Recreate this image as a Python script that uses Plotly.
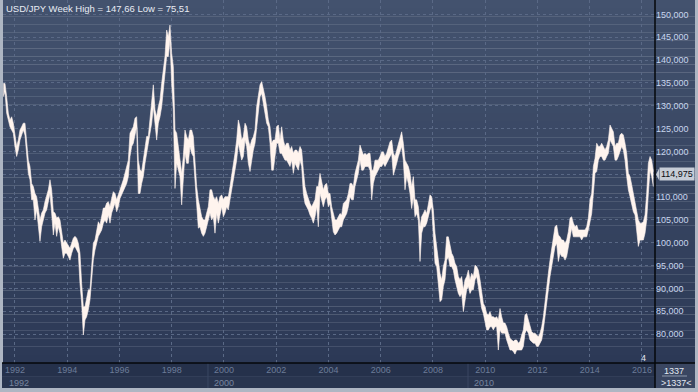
import plotly.graph_objects as go

# ---------------- data ----------------
TITLE = "USD/JPY Week High = 147,66 Low = 75,51"
FIRST_PERIOD = 1991.553      # decimal year of first sampled period
PERIOD_STEP = 0.0638         # years between sampled periods

HIGH = [
    134.9, 134.9, 132.0, 128.4, 126.9, 127.6, 126.2, 123.3, 121.1, 122.5,
    124.7, 125.4, 126.2, 126.2, 122.5, 118.1, 116.7, 113.0, 112.3, 110.8,
    110.1, 107.2, 105.0, 106.5, 107.2, 109.0, 110.1, 111.6, 113.8, 111.6,
    106.8, 106.5, 105.4, 105.7, 105.0, 102.1, 99.9, 100.6, 99.9, 99.2,
    98.8, 99.9, 101.0, 101.4, 101.0, 99.9, 97.7, 91.1, 86.0, 86.0,
    88.2, 89.7, 89.7, 96.2, 99.9, 100.6, 102.8, 104.6, 103.9, 105.7,
    107.6, 107.6, 108.7, 109.0, 107.9, 109.7, 111.2, 110.8, 109.4, 110.5,
    111.9, 112.7, 113.8, 115.2, 116.7, 118.1, 124.0, 124.7, 125.4, 127.3,
    127.6, 118.1, 116.0, 115.6, 118.1, 120.3, 123.3, 123.3, 127.6, 130.5,
    134.6, 129.1, 127.6, 129.8, 131.3, 134.9, 137.9, 140.8, 146.6, 145.2,
    147.7, 141.5, 138.6, 124.7, 124.0, 121.1, 118.1, 115.2, 118.9, 124.7,
    123.3, 122.5, 124.7, 124.7, 123.3, 117.4, 112.3, 109.4, 107.2, 105.7,
    105.0, 105.0, 106.5, 107.9, 111.6,
    111.6, 110.1, 109.4, 110.1, 108.6, 110.1, 110.5, 109.4, 110.1, 110.1,
    110.1, 112.3, 114.5, 117.4, 119.6, 122.5, 126.9, 125.4, 122.5, 123.2,
    126.2, 125.4, 122.5, 121.1, 122.5, 123.2, 124.7, 129.8, 132.7, 134.6,
    135.3, 133.8, 132.0, 129.8, 126.9, 125.4, 121.8, 122.5, 122.5, 125.4,
    125.8, 122.5, 125.4, 122.5, 121.1, 121.8, 121.8, 120.3, 121.1, 119.6,
    120.3, 120.3, 119.6, 121.1, 120.3, 115.9, 112.3, 110.8, 109.4, 108.6,
    107.9, 108.6, 109.4, 112.3, 112.3, 115.2, 113.7, 111.6, 112.7, 113.0,
    110.8, 110.8, 107.9, 106.4, 105.0, 105.0, 105.7, 106.4, 106.1, 108.6,
    109.0, 109.4, 110.8, 113.0, 113.0, 112.3, 115.2, 116.7, 118.1, 121.4,
    120.3, 119.2, 119.6, 119.2, 119.6, 119.6, 115.9, 115.9, 118.1, 118.1,
    118.1, 118.9, 119.9, 119.9, 118.9, 119.6, 120.7, 122.1, 122.5, 119.6,
    118.9, 120.3, 121.8, 122.9, 124.3, 121.8, 118.1, 117.4, 116.7, 115.2,
    112.3, 114.5, 109.4, 109.4, 107.9, 103.5,
    105.7, 106.4, 107.2, 106.4, 108.6, 110.5, 110.1, 107.2, 102.1, 99.2,
    96.2, 93.3, 91.9, 94.8, 96.2, 101.3, 101.3, 99.2, 97.7, 97.0,
    95.5, 94.8, 92.6, 91.9, 92.6, 89.7, 91.9, 92.6, 94.0, 91.9,
    93.3, 92.6, 95.1, 94.8, 94.0, 91.9, 88.9, 86.7, 86.0, 84.5,
    84.2, 84.9, 83.8, 83.8, 83.5, 83.8, 83.1, 85.6, 83.8, 82.4,
    82.4, 81.6, 80.2, 79.1, 78.7, 78.4, 78.7, 78.7, 78.0, 78.4,
    79.8, 80.9, 84.2, 84.5, 83.1, 81.6, 80.5, 80.2, 80.2, 79.8,
    79.4, 80.2, 81.6, 83.8, 87.5, 90.4, 93.3, 96.2, 98.4, 100.6,
    103.5, 103.9, 101.7, 101.3, 100.6, 100.6, 99.9, 100.6, 102.4, 105.4,
    105.7, 104.3, 103.5, 103.9, 102.8, 102.8, 102.8, 102.8, 102.8, 103.5,
    105.4, 109.4, 110.8, 116.7, 118.5, 121.8, 121.1, 121.1, 121.8, 121.1,
    120.3, 121.1, 122.5, 125.8, 125.1, 124.3, 121.1, 121.8, 121.8, 123.6,
    124.0, 123.6, 121.8, 119.6, 115.2, 114.5, 112.7, 110.8, 108.6, 107.5,
    105.0, 104.3, 104.3, 104.6, 106.1, 110.8, 117.4, 118.9, 118.1, 115.6,
]

LOW = [
    132.0, 133.1, 128.4, 126.9, 125.4, 124.7, 124.0, 121.1, 118.9, 120.3,
    122.5, 123.6, 124.7, 123.6, 119.6, 115.2, 113.8, 109.4, 109.4, 105.0,
    107.2, 103.5, 100.3, 103.5, 105.0, 106.5, 107.2, 109.4, 110.8, 106.5,
    101.7, 104.3, 101.4, 103.5, 102.1, 99.2, 96.6, 97.7, 97.7, 97.0,
    96.2, 97.7, 98.8, 99.2, 98.4, 97.7, 91.1, 86.8, 79.8, 83.1,
    83.8, 85.3, 87.5, 91.9, 96.2, 98.4, 99.9, 101.4, 102.1, 102.8,
    104.3, 105.0, 104.3, 106.1, 104.3, 106.5, 107.6, 108.7, 106.8, 107.9,
    109.7, 110.5, 111.2, 112.3, 113.0, 114.5, 118.9, 121.1, 121.8, 123.6,
    125.4, 110.8, 110.8, 113.0, 114.5, 117.4, 119.6, 121.1, 124.0, 126.2,
    129.8, 126.2, 122.5, 126.2, 127.6, 129.8, 133.5, 137.1, 140.8, 140.8,
    144.4, 134.9, 129.1, 111.9, 117.4, 116.0, 114.5, 108.3, 113.8, 119.6,
    117.4, 117.4, 121.1, 119.6, 118.9, 113.0, 109.0, 103.2, 103.5, 102.1,
    101.4, 102.1, 103.5, 105.0, 106.5,
    105.0, 105.7, 102.1, 106.5, 104.3, 106.5, 107.9, 105.7, 106.5, 107.9,
    107.2, 109.4, 111.6, 113.7, 115.9, 118.1, 121.8, 120.3, 118.1, 118.9,
    122.5, 121.1, 117.4, 115.6, 118.1, 120.3, 121.8, 125.4, 129.1, 132.0,
    132.7, 130.5, 129.1, 126.2, 125.4, 121.8, 115.9, 115.9, 118.9, 121.8,
    121.8, 119.6, 119.6, 118.9, 118.1, 118.1, 117.4, 116.7, 118.1, 115.2,
    117.4, 116.7, 115.9, 118.1, 116.7, 110.8, 108.6, 107.9, 107.2, 106.1,
    105.4, 104.3, 105.7, 107.9, 103.5, 110.8, 109.4, 107.9, 109.4, 110.1,
    107.9, 108.6, 105.4, 102.4, 101.7, 102.1, 102.8, 103.5, 103.5, 105.0,
    105.7, 106.4, 107.9, 110.1, 109.4, 109.4, 112.3, 113.7, 115.2, 118.1,
    115.9, 115.9, 116.7, 116.7, 116.7, 115.9, 109.4, 113.0, 114.5, 115.2,
    115.9, 116.7, 116.7, 117.4, 116.7, 117.4, 118.1, 118.9, 119.6, 114.8,
    115.9, 117.4, 118.9, 120.3, 121.1, 118.1, 111.6, 114.5, 113.0, 110.8,
    107.5, 110.1, 105.7, 106.4, 105.0, 95.9,
    102.1, 103.5, 103.5, 104.3, 105.7, 107.2, 107.9, 100.6, 95.5, 94.8,
    91.1, 87.1, 87.5, 90.4, 91.9, 96.2, 96.9, 94.8, 94.8, 94.0,
    91.9, 90.4, 88.9, 88.2, 88.9, 84.9, 87.5, 89.7, 90.4, 88.9,
    89.7, 89.7, 91.9, 92.6, 90.4, 87.5, 85.6, 84.5, 82.7, 80.9,
    80.9, 81.6, 81.6, 80.9, 81.6, 81.6, 76.5, 80.9, 80.2, 80.2,
    80.2, 78.7, 77.3, 76.5, 76.5, 76.2, 75.6, 76.5, 76.5, 76.5,
    76.5, 77.3, 80.2, 80.9, 80.2, 78.7, 78.4, 78.0, 78.0, 77.3,
    77.3, 78.0, 78.7, 80.9, 83.8, 86.7, 90.4, 92.6, 94.8, 97.0,
    99.2, 99.9, 95.9, 97.7, 97.0, 97.0, 96.2, 97.0, 99.2, 100.6,
    103.2, 101.3, 101.3, 101.3, 101.3, 101.3, 100.6, 101.3, 101.3, 101.3,
    102.8, 104.3, 106.4, 110.8, 115.2, 115.6, 118.1, 118.9, 118.9, 118.1,
    118.1, 118.9, 119.6, 122.5, 121.8, 121.1, 118.1, 118.1, 118.9, 120.3,
    121.1, 120.3, 118.1, 114.5, 111.6, 110.1, 108.3, 106.8, 106.1, 102.4,
    99.2, 100.6, 100.6, 100.6, 102.1, 105.0, 110.8, 115.9, 114.5, 112.3,
]

LAST_VALUE = 114.975
Y_TICKS = [80, 85, 90, 95, 100, 105, 110, 115, 120, 125, 130, 135, 140, 145, 150]
X_TICK_YEARS = [1992, 1994, 1996, 1998, 2000, 2002, 2004, 2006, 2008, 2010, 2012, 2014, 2016]
X_TICK_LABELS = ["1992", "1994", "1996", "1998", "2000", "2002", "2004",
                 "2006", "2008", "2010", "2012", "2014", "2016"]
ERA_LABELS = ["1992", "2000", "2010"]
ERA_STARTS = [1991.541, 1999.387, 2009.34]
BAR_COUNT = "1337"
BAR_MARK = ">1337<"
SCALE_LABEL = "4"

n = min(len(HIGH), len(LOW))
periods = [FIRST_PERIOD + i * PERIOD_STEP for i in range(n)]


def fmt(v):
    return ("%.3f" % v).replace(".", ",")


# the last-value marker hides the price label it sits on
y_ticktext = ["" if abs(v - LAST_VALUE) < 2.5 else fmt(v) for v in Y_TICKS]

# ---------------- layout helpers ----------------
W, H = 698, 392
L, R, T, B = 3, 43, 0, 29
PW, PH = W - L - R, H - T - B   # 652 x 363


def px_x(p):
    return (p - L) / PW


def px_y(p):
    return (T + PH - p) / PH


X_RANGE = [1991.541, 2016.498]
Y_RANGE = [73.66, 153.18]

FONT = "Liberation Sans, Arial, sans-serif"
LINE_COL = "#fff4ee"

fig = go.Figure()
fig.add_trace(go.Scatter(x=periods, y=LOW[:n], mode="lines",
                         line=dict(color=LINE_COL, width=0.6),
                         hoverinfo="skip", showlegend=False))
fig.add_trace(go.Scatter(x=periods, y=HIGH[:n], mode="lines",
                         line=dict(color=LINE_COL, width=0.6),
                         fill="tonexty", fillcolor=LINE_COL,
                         hoverinfo="skip", showlegend=False))

shapes = []
# vertical gradient background (plot + right axis panel)
top = (67, 82, 110)
bot = (44, 57, 86)
NB = 45
x_right = px_x(695)
for i in range(NB):
    f = i / (NB - 1)
    c = tuple(round(top[k] + (bot[k] - top[k]) * f) for k in range(3))
    shapes.append(dict(type="rect", xref="paper", yref="paper",
                       x0=0, x1=x_right, y0=1 - (i + 1) / NB, y1=1 - i / NB,
                       fillcolor="rgb(%d,%d,%d)" % c, line=dict(width=0),
                       layer="below"))
# bottom time strip
shapes.append(dict(type="rect", xref="paper", yref="paper",
                   x0=px_x(2), x1=x_right, y0=px_y(376.5), y1=0,
                   fillcolor="#25314b", line=dict(width=0), layer="below"))
shapes.append(dict(type="rect", xref="paper", yref="paper",
                   x0=px_x(2), x1=x_right, y0=px_y(388), y1=px_y(376.5),
                   fillcolor="#29354f", line=dict(width=0), layer="below"))
shapes.append(dict(type="line", xref="paper", yref="paper",
                   x0=px_x(2), x1=px_x(655), y0=px_y(376.5), y1=px_y(376.5),
                   line=dict(color="#323e58", width=1), layer="below"))
# bottom-right counter box
shapes.append(dict(type="rect", xref="paper", yref="paper",
                   x0=px_x(655), x1=x_right, y0=px_y(388), y1=0,
                   fillcolor="#3a4661", line=dict(width=0), layer="below"))
shapes.append(dict(type="line", xref="paper", yref="paper",
                   x0=px_x(662), x1=px_x(687), y0=px_y(376), y1=px_y(376),
                   line=dict(color="#8d98ac", width=1)))
# era separators
for xs in ERA_STARTS[1:]:
    shapes.append(dict(type="line", xref="x", yref="paper",
                       x0=xs, x1=xs, y0=px_y(388), y1=0,
                       line=dict(color="#3a4762", width=1)))
# black axis lines
shapes.append(dict(type="line", xref="paper", yref="paper",
                   x0=px_x(2), x1=x_right, y0=0, y1=0,
                   line=dict(color="#05070a", width=1.5)))
shapes.append(dict(type="line", xref="paper", yref="paper",
                   x0=1, x1=1, y0=px_y(388), y1=1,
                   line=dict(color="#05070a", width=1.5)))
# last-value pointer
shapes.append(dict(type="path", xref="paper", yref="y",
                   path="M %f,%f L %f,%f L %f,%f Z" % (
                       px_x(656), LAST_VALUE, px_x(659), LAST_VALUE + 1.25,
                       px_x(659), LAST_VALUE - 1.25),
                   fillcolor="#c6ccd6", line=dict(width=0)))

annotations = [
    dict(text=TITLE, xref="paper", yref="paper", x=px_x(4), y=px_y(8),
         xanchor="left", yanchor="middle", showarrow=False,
         font=dict(family=FONT, size=9.5, color="#e8ecf4")),
    dict(text=SCALE_LABEL, xref="paper", yref="paper", x=px_x(643), y=px_y(358),
         xanchor="center", yanchor="middle", showarrow=False,
         font=dict(family=FONT, size=9, color="#e2e8f2")),
    dict(text=BAR_COUNT, xref="paper", yref="paper", x=px_x(674), y=px_y(370.5),
         xanchor="center", yanchor="middle", showarrow=False,
         font=dict(family=FONT, size=9, color="#e4e9f2")),
    dict(text=BAR_MARK, xref="paper", yref="paper", x=px_x(676), y=px_y(383),
         xanchor="center", yanchor="middle", showarrow=False,
         font=dict(family=FONT, size=9, color="#e4e9f2")),
    dict(text=fmt(LAST_VALUE), xref="paper", yref="y",
         x=px_x(659), y=LAST_VALUE, xanchor="left", yanchor="middle",
         showarrow=False, bgcolor="#c6ccd6", borderpad=1,
         font=dict(family=FONT, size=9, color="#0b0d12")),
]
for lab, xs in zip(ERA_LABELS, ERA_STARTS):
    annotations.append(dict(text=lab, xref="x", yref="paper",
                            x=xs, xshift=4, y=px_y(382.5),
                            xanchor="left", yanchor="middle", showarrow=False,
                            font=dict(family=FONT, size=9, color="#7886a0")))

GRID = "#5a6986"
fig.update_layout(
    width=W, height=H,
    margin=dict(l=L, r=R, t=T, b=B, pad=0),
    paper_bgcolor="#aeb6c3",
    plot_bgcolor="rgba(0,0,0,0)",
    separators=",.",
    showlegend=False,
    shapes=shapes,
    annotations=annotations,
    xaxis=dict(range=X_RANGE, tickvals=X_TICK_YEARS, ticktext=X_TICK_LABELS,
               showgrid=True, gridcolor=GRID, griddash="3px,3px", gridwidth=1,
               zeroline=False, showline=False, ticks="",
               tickfont=dict(family=FONT, size=9, color="#6c7c98"),
               fixedrange=True),
    yaxis=dict(range=Y_RANGE, side="right", tickvals=Y_TICKS, ticktext=y_ticktext,
               showgrid=True, gridcolor=GRID, griddash="3px,3px", gridwidth=1,
               zeroline=False, showline=False, ticks="",
               tickfont=dict(family=FONT, size=9, color="#c8d6ee"),
               fixedrange=True),
)

fig.write_html("out.html", config={"displayModeBar": False},
               post_script="document.body.style.margin='0';"
                           "document.body.style.overflow='hidden';")
